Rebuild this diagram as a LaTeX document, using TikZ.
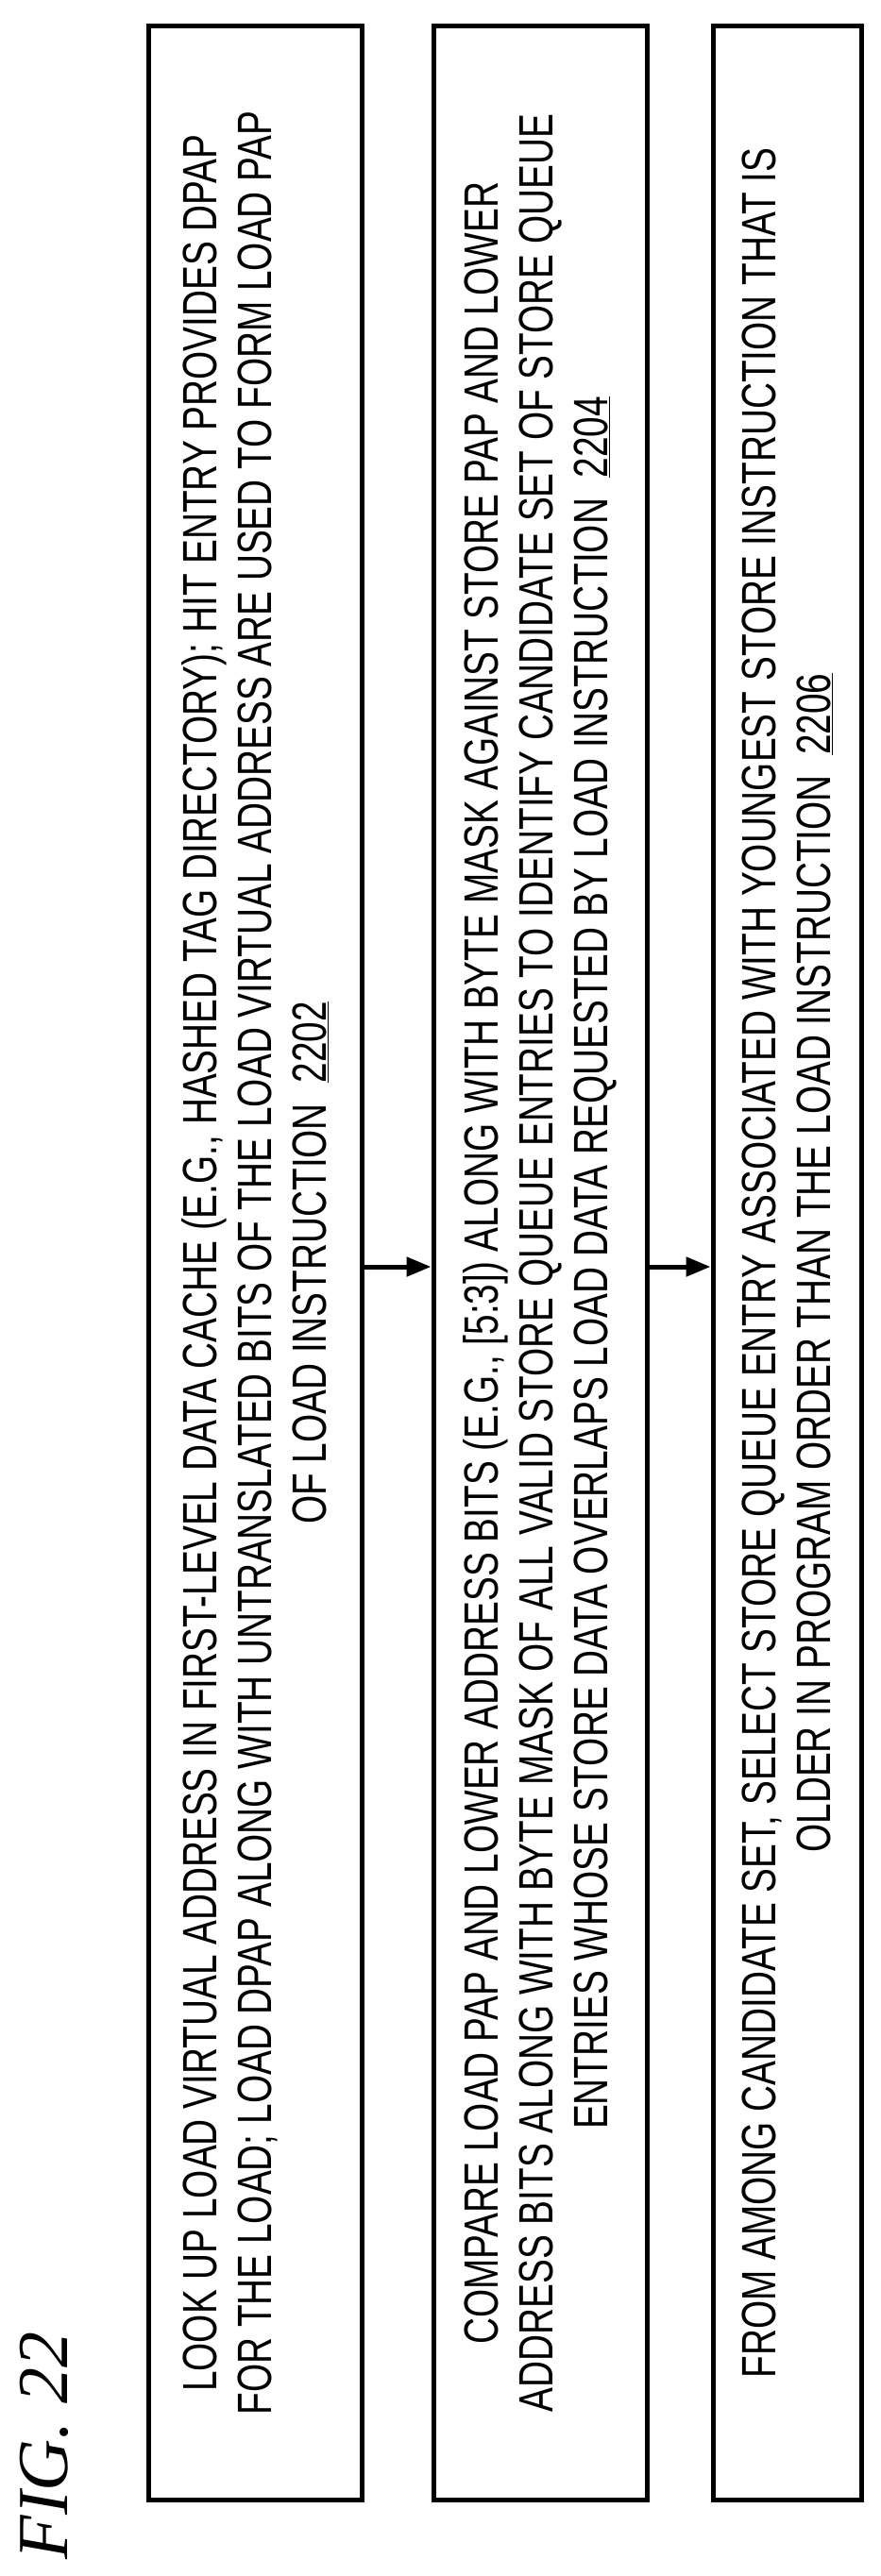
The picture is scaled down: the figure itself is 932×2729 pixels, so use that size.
\documentclass[tikz,border=0pt]{standalone}
\usepackage{fontspec}
\setmainfont{Liberation Sans}
\newfontfamily\narrowfont[FakeStretch=0.76]{Liberation Sans}
\newfontfamily\figfont{Liberation Serif}
\usetikzlibrary{arrows.meta}
\begin{document}
\begin{tikzpicture}[x=1pt,y=-1pt,
  stepbox/.style={draw,line width=5pt,rotate=90,minimum width=2620pt,align=center,inner sep=0pt,
    font=\narrowfont\fontsize{51}{58}\selectfont},
  arr/.style={line width=5pt,-{Triangle[length=26pt,width=20pt]}}]
\useasboundingbox (0,0) rectangle (932,2729);
\node[stepbox,minimum height=226pt] (b1) at (270,1338) {LOOK UP LOAD VIRTUAL ADDRESS IN FIRST-LEVEL DATA CACHE (E.G., HASHED TAG DIRECTORY); HIT ENTRY PROVIDES DPAP\\FOR THE LOAD; LOAD DPAP ALONG WITH UNTRANSLATED BITS OF THE LOAD VIRTUAL ADDRESS ARE USED TO FORM LOAD PAP\\OF LOAD INSTRUCTION\ \ \underline{2202}};
\node[stepbox,minimum height=226pt] (b2) at (572,1338) {COMPARE LOAD PAP AND LOWER ADDRESS BITS (E.G., [5:3]) ALONG WITH BYTE MASK AGAINST STORE PAP AND LOWER\\ADDRESS BITS ALONG WITH BYTE MASK OF ALL VALID STORE QUEUE ENTRIES TO IDENTIFY CANDIDATE SET OF STORE QUEUE\\ENTRIES WHOSE STORE DATA OVERLAPS LOAD DATA REQUESTED BY LOAD INSTRUCTION\ \ \underline{2204}};
\node[stepbox,minimum height=157pt] (b3) at (833.5,1338) {FROM AMONG CANDIDATE SET, SELECT STORE QUEUE ENTRY ASSOCIATED WITH YOUNGEST STORE INSTRUCTION THAT IS\\OLDER IN PROGRAM ORDER THAN THE LOAD INSTRUCTION\ \ \underline{2206}};
\draw[arr] (b1.south |- 0,1342) -- (b2.north |- 0,1342);
\draw[arr] (b2.south |- 0,1342) -- (b3.north |- 0,1342);
\node[rotate=90,font=\figfont\itshape\fontsize{76}{80}\selectfont,inner sep=0pt] (fig) at (47,2591) {FIG. 22};
\end{tikzpicture}
\end{document}
